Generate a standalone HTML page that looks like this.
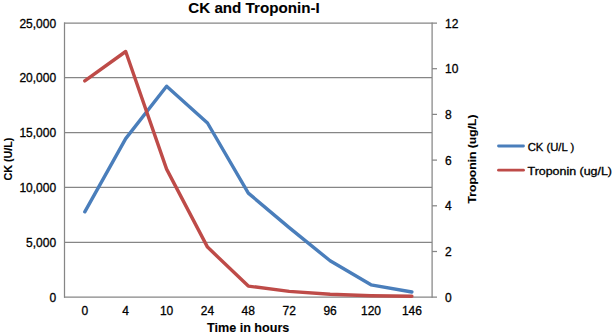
<!DOCTYPE html>
<html><head><meta charset="utf-8">
<style>
html,body{margin:0;padding:0;background:#fff;width:614px;height:334px;overflow:hidden;}
svg{display:block;}
text{font-family:"Liberation Sans",sans-serif;fill:#000;stroke:#000;stroke-width:0.3px;}
.b{stroke-width:0.1px;}
.b{font-weight:bold;}
</style></head>
<body>
<svg width="614" height="334" viewBox="0 0 614 334">
<!-- title -->
<text class="b" x="254" y="12.7" font-size="14.8" text-anchor="middle" textLength="131.5" lengthAdjust="spacingAndGlyphs">CK and Troponin-I</text>
<!-- gridlines -->
<g stroke="#868686" stroke-width="1.25" fill="none">
<line x1="64" y1="23" x2="437" y2="23"/>
<line x1="64" y1="77.7" x2="432" y2="77.7"/>
<line x1="64" y1="132.5" x2="432" y2="132.5"/>
<line x1="64" y1="187.45" x2="432" y2="187.45"/>
<line x1="64" y1="242.4" x2="432" y2="242.4"/>
<line x1="64" y1="297.2" x2="437" y2="297.2"/>
<line x1="64.5" y1="22.4" x2="64.5" y2="297.8"/>
<line x1="432.1" y1="22.4" x2="432.1" y2="297.8"/>
<line x1="432" y1="68.7" x2="437" y2="68.7"/>
<line x1="432" y1="114.4" x2="437" y2="114.4"/>
<line x1="432" y1="160.1" x2="437" y2="160.1"/>
<line x1="432" y1="205.8" x2="437" y2="205.8"/>
<line x1="432" y1="251.5" x2="437" y2="251.5"/>
</g>
<!-- series -->
<polyline fill="none" stroke="#4A7EBB" stroke-width="3.4" stroke-linejoin="round" stroke-linecap="round"
 points="84.8,211.8 125.7,138.6 166.6,86.2 207.5,123.0 248.3,193.1 289.2,227.6 330.1,260.8 371.0,284.8 411.9,292.0"/>
<polyline fill="none" stroke="#BE4B48" stroke-width="3.4" stroke-linejoin="round" stroke-linecap="round"
 points="84.8,80.9 125.7,51.5 166.6,169.1 207.5,247.1 248.3,286.1 289.2,291.4 330.1,294.2 371.0,295.7 411.9,296.3"/>
<!-- left axis labels -->
<g font-size="12" text-anchor="end">
<text x="56.1" y="27.6">25,000</text>
<text x="56.1" y="82.4">20,000</text>
<text x="56.1" y="137.3">15,000</text>
<text x="56.1" y="192.1">10,000</text>
<text x="56.1" y="247">5,000</text>
<text x="56.1" y="301.8">0</text>
</g>
<!-- right axis labels -->
<g font-size="12" text-anchor="start">
<text x="445" y="27.5">12</text>
<text x="445" y="73.2">10</text>
<text x="445" y="118.9">8</text>
<text x="445" y="164.6">6</text>
<text x="445" y="210.3">4</text>
<text x="445" y="256">2</text>
<text x="445" y="301.7">0</text>
</g>
<!-- category labels -->
<g font-size="12" text-anchor="middle">
<text x="84.8" y="315.2">0</text>
<text x="125.7" y="315.2">4</text>
<text x="166.6" y="315.2">10</text>
<text x="207.5" y="315.2">24</text>
<text x="248.3" y="315.2">48</text>
<text x="289.2" y="315.2">72</text>
<text x="330.1" y="315.2">96</text>
<text x="371.0" y="315.2">120</text>
<text x="411.9" y="315.2">146</text>
</g>
<!-- axis titles -->
<text class="b" x="248.2" y="332.2" font-size="12.6" text-anchor="middle">Time in hours</text>
<text class="b" font-size="11.1" text-anchor="middle" textLength="43" lengthAdjust="spacingAndGlyphs" transform="translate(11.9,159.1) rotate(-90)">CK (U/L)</text>
<text class="b" font-size="11.5" text-anchor="middle" textLength="89" lengthAdjust="spacingAndGlyphs" transform="translate(475.5,159) rotate(-90)">Troponin (ug/L)</text>
<!-- legend -->
<line x1="498.5" y1="146" x2="523.5" y2="146" stroke="#4A7EBB" stroke-width="2.8" stroke-linecap="round"/>
<line x1="498.5" y1="170.2" x2="523.5" y2="170.2" stroke="#BE4B48" stroke-width="2.8" stroke-linecap="round"/>
<g font-size="10.4">
<text x="527.7" y="150.5" textLength="46.5" lengthAdjust="spacingAndGlyphs">CK (U/L )</text>
<text x="527.5" y="175" textLength="84.5" lengthAdjust="spacingAndGlyphs">Troponin (ug/L)</text>
</g>
</svg>
</body></html>
